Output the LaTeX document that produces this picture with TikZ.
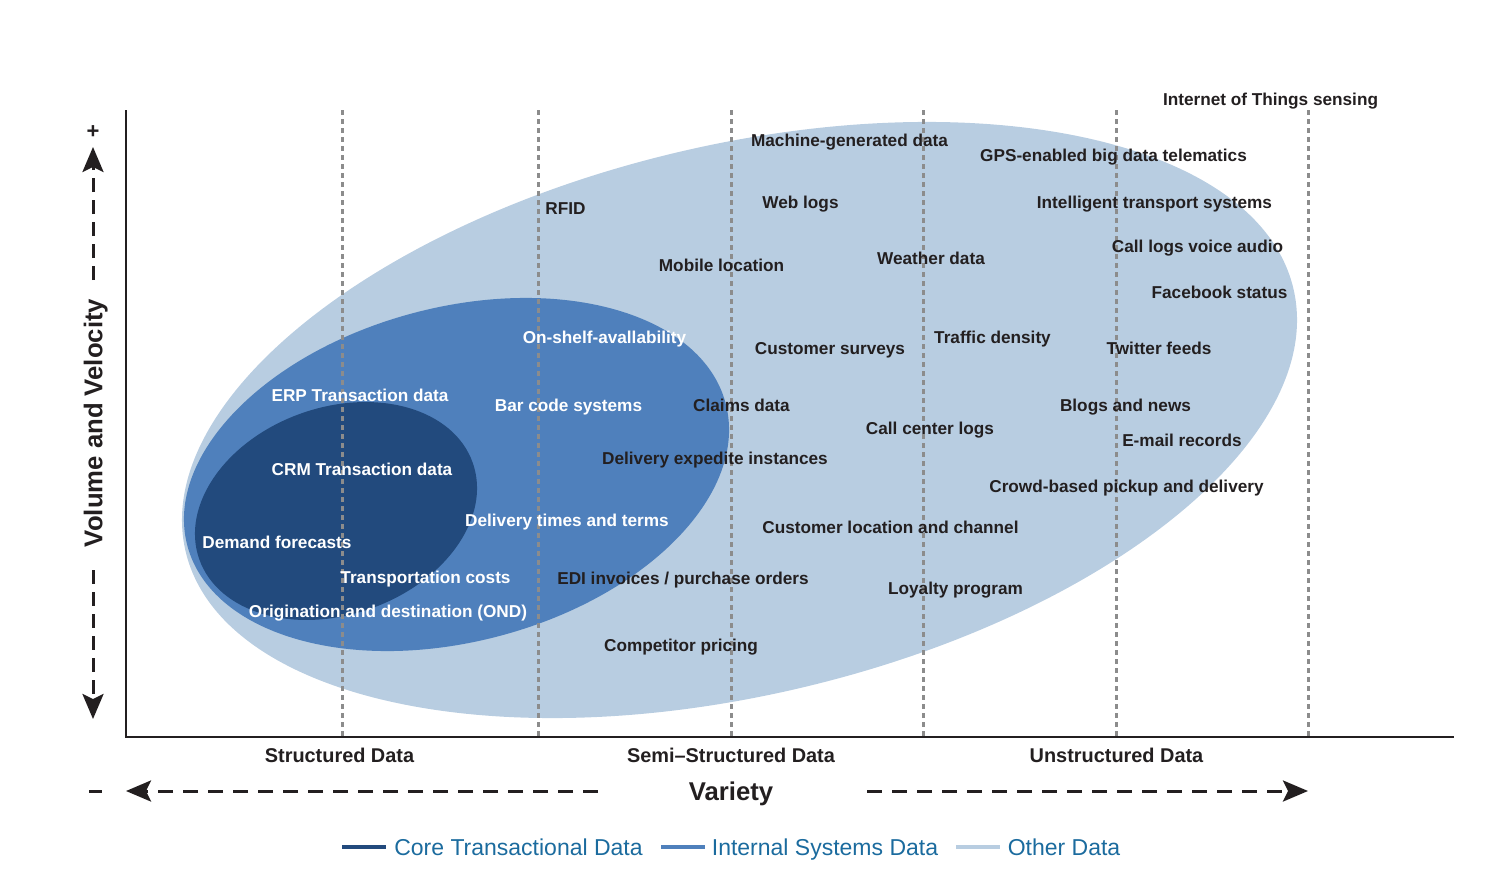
\documentclass[tikz,border=0pt]{standalone}
\usepackage{fontspec}
\setmainfont{Liberation Sans}
\usetikzlibrary{arrows.meta}
\definecolor{lightc}{RGB}{184,205,225}
\definecolor{midc}{RGB}{79,128,188}
\definecolor{darkc}{RGB}{34,74,125}
\definecolor{gridc}{RGB}{140,140,140}
\definecolor{txt}{RGB}{35,31,32}
\definecolor{legc}{RGB}{27,107,158}
\begin{document}
\begin{tikzpicture}[x=1pt,y=-1pt,
  lbl/.style={font=\fontsize{17.2}{20}\selectfont\bfseries, text=txt, inner sep=0pt, text height=12pt, text depth=0pt},
  wlbl/.style={lbl, text=white},
  catlbl/.style={font=\fontsize{19.9}{22}\selectfont\bfseries, text=txt, inner sep=0pt, text height=14pt, text depth=0pt},
  bigl/.style={font=\fontsize{25.7}{30}\selectfont\bfseries, text=txt, inner sep=0pt, text height=18.5pt, text depth=0pt},
  legl/.style={font=\fontsize{23}{27}\selectfont, text=legc, inner sep=0pt, text height=16.5pt, text depth=0pt},
  gridline/.style={draw=gridc, line width=3pt, dash pattern=on 5pt off 4pt},
  axisline/.style={draw=txt, line width=2.6pt},
  dasharrow/.style={draw=txt, line width=3pt, dash pattern=on 14pt off 8pt, -{Stealth[length=25pt,width=21pt,inset=5pt]}},
  legline/.style={line width=4pt}
]
\useasboundingbox (0,0) rectangle (1494,878);

% ellipses
\fill[lightc, rotate around={13.37:(739.5,420)}] (739.5,420) ellipse [x radius=569.3pt, y radius=274.8pt];
\fill[midc, rotate around={14.8:(456.5,474.5)}] (456.5,474.5) ellipse [x radius=278.4pt, y radius=167.1pt];
\fill[darkc, rotate around={19.4:(336,511)}] (336,511) ellipse [x radius=145pt, y radius=103.6pt];

% grid lines
\foreach \gx/\gn in {342/g1,538/g2,731/g3,923/g4,1116/g5,1308/g6}{
  \coordinate (\gn t) at (\gx,110);
  \coordinate (\gn b) at (\gx,737);
  \draw[gridline] (\gn t) -- (\gn b);
}

% axes
\coordinate (ytop) at (126,110);
\coordinate (orig) at (126,737);
\coordinate (xend) at (1454,737);
\draw[axisline] (ytop) -- (orig) -- (xend);

% y direction arrow
\node[lbl, font=\fontsize{22}{24}\selectfont\bfseries, text height=15pt] (plus) at (93,131) {+};
\node[bigl, rotate=90] (vv) at (93,423) {Volume and Velocity};
\coordinate (yup0) at (93,280);
\coordinate (yup1) at (93,147);
\coordinate (ydn0) at (93,570);
\coordinate (ydn1) at (93,719);
\draw[dasharrow] (yup0) -- (yup1);
\draw[dasharrow] (ydn0) -- (ydn1);

% x direction arrow
\node[bigl] (variety) at (731,791) {Variety};
\coordinate (m0) at (89,791);
\coordinate (m1) at (102,791);
\draw[draw=txt, line width=3pt] (m0) -- (m1);
\coordinate (xl0) at (598,791);
\coordinate (xl1) at (126,791);
\coordinate (xr0) at (867,791);
\coordinate (xr1) at (1308,791);
\draw[dasharrow, dash pattern=on 15pt off 10pt] (xl0) -- (xl1);
\draw[dasharrow, dash pattern=on 15pt off 10pt] (xr0) -- (xr1);

% category labels
\node[catlbl] (cs) at (339.5,755) {Structured Data};
\node[catlbl] (css) at (731,755) {Semi–Structured Data};
\node[catlbl] (cu) at (1116.5,755) {Unstructured Data};

% labels
\node[lbl] (l1) at (1270.5,99) {Internet of Things sensing};
\node[lbl] (l2) at (849.5,140) {Machine-generated data};
\node[lbl] (l3) at (1113.5,155) {GPS-enabled big data telematics};
\node[lbl] (l4) at (565.5,208) {RFID};
\node[lbl] (l5) at (800.5,202) {Web logs};
\node[lbl] (l6) at (1154.5,202) {Intelligent transport systems};
\node[lbl] (l7) at (1197.5,246) {Call logs voice audio};
\node[lbl] (l8) at (721.5,265) {Mobile location};
\node[lbl] (l9) at (931,258) {Weather data};
\node[lbl] (l10) at (1219.5,292) {Facebook status};
\node[wlbl] (l11) at (604.5,337) {On-shelf-avallability};
\node[lbl] (l12) at (830,348) {Customer surveys};
\node[lbl] (l13) at (992.5,337) {Traffic density};
\node[lbl] (l14) at (1159,348) {Twitter feeds};
\node[wlbl] (l15) at (360,395) {ERP Transaction data};
\node[wlbl] (l16) at (568.5,405) {Bar code systems};
\node[lbl] (l17) at (741.5,405) {Claims data};
\node[lbl] (l18) at (1125.5,405) {Blogs and news};
\node[lbl] (l19) at (930,428) {Call center logs};
\node[lbl] (l20) at (1182,440) {E-mail records};
\node[lbl] (l21) at (715,458) {Delivery expedite instances};
\node[wlbl] (l22) at (362,469) {CRM Transaction data};
\node[lbl] (l23) at (1126.5,486) {Crowd-based pickup and delivery};
\node[wlbl] (l24) at (567,520) {Delivery times and terms};
\node[lbl] (l25) at (890.5,527) {Customer location and channel};
\node[wlbl] (l26) at (277,542) {Demand forecasts};
\node[wlbl] (l27) at (425.5,577) {Transportation costs};
\node[lbl] (l28) at (683,578) {EDI invoices / purchase orders};
\node[lbl] (l29) at (955.5,588) {Loyalty program};
\node[wlbl] (l30) at (388,611) {Origination and destination (OND)};
\node[lbl] (l31) at (681,645) {Competitor pricing};

% legend
\coordinate (ld0) at (342,847); \coordinate (ld1) at (386,847);
\coordinate (lm0) at (661,847); \coordinate (lm1) at (705,847);
\coordinate (ll0) at (956,847); \coordinate (ll1) at (1000,847);
\draw[legline, darkc] (ld0) -- (ld1);
\draw[legline, midc] (lm0) -- (lm1);
\draw[legline, lightc] (ll0) -- (ll1);
\node[legl] (lg1) at (518.5,847) {Core Transactional Data};
\node[legl] (lg2) at (825,847) {Internal Systems Data};
\node[legl] (lg3) at (1064,847) {Other Data};
\end{tikzpicture}
\end{document}
